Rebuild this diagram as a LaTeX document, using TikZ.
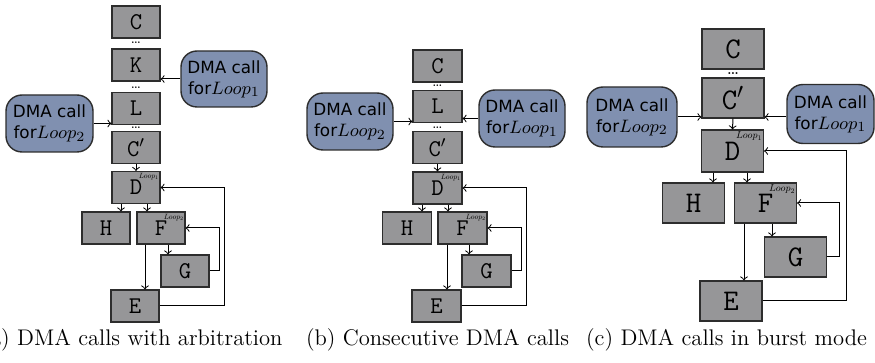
\documentclass[tikz,border=0pt]{standalone}
\usepackage{fontspec}
\setsansfont{DejaVu Sans}
\definecolor{boxgray}{RGB}{150,150,152}
\definecolor{dmablue}{RGB}{128,144,176}
\definecolor{edgecol}{RGB}{45,45,45}
\newcommand{\lp}[1]{{\fontsize{9.5}{10}\selectfont$Loop_{#1}$}}
\newcommand{\tinylp}[2]{\scalebox{#2}{$Loop_{#1}$}}
\tikzset{
 gbox/.style={draw=edgecol, fill=boxgray, line width=0.55pt, inner sep=0pt, font=\fontsize{12}{13}\selectfont\ttfamily},
 gboxa/.style={gbox, minimum width=24pt, minimum height=16pt},
 gboxb/.style={gbox, minimum width=24.5pt, minimum height=16pt},
 gboxc/.style={gbox, minimum width=31pt, minimum height=20pt, font=\fontsize{15}{16}\selectfont\ttfamily},
 dma/.style={draw=edgecol, fill=dmablue, rounded corners=8pt, line width=0.7pt, align=center, inner sep=0pt, font=\fontsize{8.4}{10.5}\selectfont\sffamily},
 arr/.style={->, line width=0.5pt},
 dotsa/.style={inner sep=0pt, font=\fontsize{7}{7}\selectfont},
 dotsc/.style={inner sep=0pt, font=\fontsize{9}{9}\selectfont},
 lbl/.style={anchor=north east, inner xsep=0.8pt, inner ysep=1pt},
 captext/.style={anchor=base, inner sep=0pt, font=\fontsize{11.3}{13}\selectfont}
}
\begin{document}
\begin{tikzpicture}[x=0.5pt,y=-0.5pt]
\useasboundingbox (0,0) rectangle (875,363);
% ---------- panel (a)
\node[gboxa] (Ca) at (136,22) {C};
\node[gboxa] (Ka) at (136,65) {K};
\node[gboxa] (La) at (136,108.5) {L};
\node[gboxa] (Cpa) at (136,147.5) {C$'$};
\node[gboxa] (Da) at (136,187.5) {D};
\node[gboxa] (Ha) at (106,228) {H};
\node[gboxa] (Fa) at (161,228) {F};
\node[gboxa] (Ga) at (185,271) {G};
\node[gboxa] (Ea) at (135,306) {E};
\node[dotsa] (d1a) at (136,43) {\ldots};
\node[dotsa] (d2a) at (136,87.5) {\ldots};
\node[dotsa] (d3a) at (136,128) {\ldots};
\node[dma, minimum width=43pt, minimum height=28pt] (M1a) at (224,79) {DMA call\\for\lp{1}};
\node[dma, minimum width=43.5pt, minimum height=28.5pt] (M2a) at (49.5,123.5) {DMA call\\for\lp{2}};
\node[lbl] (l1a) at (Da.north east) {\tinylp{1}{0.38}};
\node[lbl] (l2a) at (Fa.north east) {\tinylp{2}{0.38}};
\draw[arr] (M1a.west) -- (M1a.west -| Ka.east);
\draw[arr] (M2a.east) -- (M2a.east -| La.west);
\draw[arr] (Cpa.south) -- (Da.north);
\draw[arr] (121,0 |- Da.south) -- (121,0 |- Ha.north);
\draw[arr] (147,0 |- Da.south) -- (147,0 |- Fa.north);
\draw[arr] (168,0 |- Fa.south) -- (168,0 |- Ga.north);
\draw[arr] (145,0 |- Fa.south) -- (145,0 |- Ea.north);
\draw[arr] (Ga.east) -- (219,0 |- Ga.east) |- (Fa.east);
\draw[arr] (Ea.east) -- (224,0 |- Ea.east) |- (Da.east);
\node[captext] (capa) at (132,346) {(a) DMA calls with arbitration};
% ---------- panel (b)
\node[gboxb] (Cb) at (437.5,66) {C};
\node[gboxb] (Lb) at (437.5,106.5) {L};
\node[gboxb] (Cpb) at (437.5,147.5) {C$'$};
\node[gboxb] (Db) at (437.5,188) {D};
\node[gboxb] (Hb) at (407,228) {H};
\node[gboxb] (Fb) at (462.5,228) {F};
\node[gboxb] (Gb) at (486.5,271) {G};
\node[gboxb] (Eb) at (436.5,306) {E};
\node[dotsa] (d1b) at (437.5,86) {\ldots};
\node[dotsa] (d2b) at (437.5,128) {\ldots};
\node[dma, minimum width=43pt, minimum height=28.5pt] (M2b) at (350,121.5) {DMA call\\for\lp{2}};
\node[dma, minimum width=43pt, minimum height=28.5pt] (M1b) at (522,118.5) {DMA call\\for\lp{1}};
\node[lbl] (l1b) at (Db.north east) {\tinylp{1}{0.38}};
\node[lbl] (l2b) at (Fb.north east) {\tinylp{2}{0.38}};
\draw[arr] (M2b.east) -- (M2b.east -| Lb.west);
\draw[arr] (M1b.west) -- (M1b.west -| Lb.east);
\draw[arr] (Cpb.south) -- (Db.north);
\draw[arr] (422,0 |- Db.south) -- (422,0 |- Hb.north);
\draw[arr] (448,0 |- Db.south) -- (448,0 |- Fb.north);
\draw[arr] (469,0 |- Fb.south) -- (469,0 |- Gb.north);
\draw[arr] (447,0 |- Fb.south) -- (447,0 |- Eb.north);
\draw[arr] (Gb.east) -- (521,0 |- Gb.east) |- (Fb.east);
\draw[arr] (Eb.east) -- (526,0 |- Eb.east) |- (Db.east);
\node[captext] (capb) at (437.5,346) {(b) Consecutive DMA calls};
% ---------- panel (c)
\node[gboxc] (Cc) at (733,49) {C};
\node[gboxc] (Cpc) at (733,98) {C$'$};
\node[gboxc, minimum height=21pt] (Dc) at (732.5,151) {D};
\node[gboxc] (Hc) at (693.5,203) {H};
\node[gboxc] (Fc) at (765.5,203) {F};
\node[gboxc] (Gc) at (795.5,257) {G};
\node[gboxc] (Ec) at (731,301) {E};
\node[dotsc] (d1c) at (733,74) {\ldots};
\node[dma, minimum width=45pt, minimum height=30pt] (M2c) at (632,117) {DMA call\\for\lp{2}};
\node[dma, minimum width=43.5pt, minimum height=29.5pt] (M1c) at (830.5,114) {DMA call\\for\lp{1}};
\node[lbl] (l1c) at (Dc.north east) {\tinylp{1}{0.5}};
\node[lbl] (l2c) at (Fc.north east) {\tinylp{2}{0.5}};
\draw[arr] (M2c.east) -- (M2c.east -| Cpc.west);
\draw[arr] (M1c.west |- 0,117) -- (Cpc.east |- 0,117);
\draw[arr] (Cpc.south) -- (Dc.north);
\draw[arr] (713,0 |- Dc.south) -- (713,0 |- Hc.north);
\draw[arr] (747,0 |- Dc.south) -- (747,0 |- Fc.north);
\draw[arr] (772,0 |- Fc.south) -- (772,0 |- Gc.north);
\draw[arr] (744,0 |- Fc.south) -- (744,0 |- Ec.north);
\draw[arr] (Gc.east) -- (839,0 |- Gc.east) |- (Fc.east);
\draw[arr] (Ec.east) -- (846,0 |- Ec.east) |- (Dc.east);
\node[captext] (capc) at (726.5,346) {(c) DMA calls in burst mode};
\end{tikzpicture}
\end{document}
